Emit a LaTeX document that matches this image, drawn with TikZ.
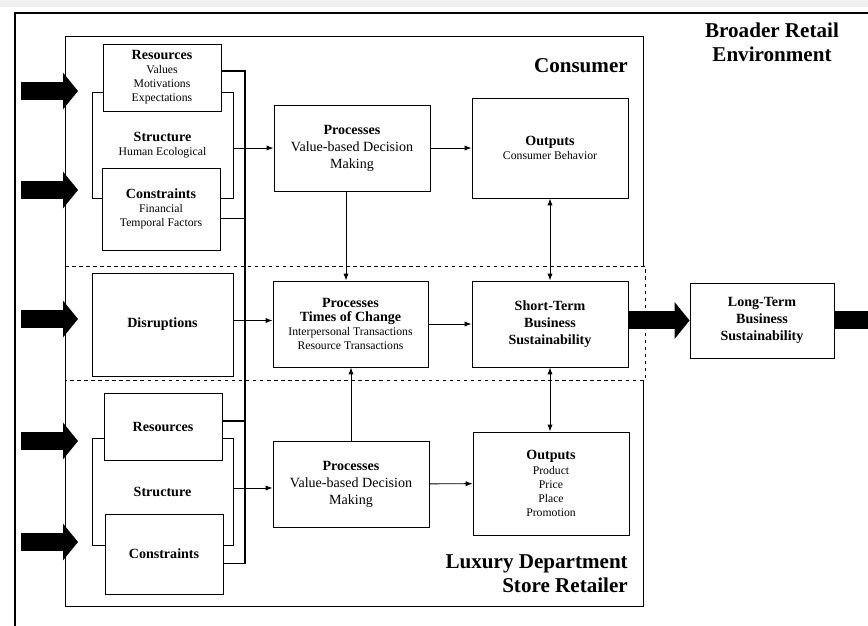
\documentclass[tikz,border=0pt]{standalone}
\usepackage{fontspec}
\setmainfont{Liberation Serif}
\usetikzlibrary{arrows.meta}

\tikzset{
	box/.style={draw, line width=0.7pt, fill=white, inner sep=2pt, align=center},
	wh/.style 2 args={minimum width=#1*0.03cm, minimum height=#2*0.03cm},
	sm/.style={font=\fontsize{10}{12}\selectfont},
	md/.style={font=\fontsize{12}{14.5}\selectfont},
	mdb/.style={font=\fontsize{12}{14.5}\selectfont\bfseries},
	arr/.style={-{Latex[length=6pt,width=4.5pt]}, line width=0.8pt},
	dbl/.style={{Latex[length=6pt,width=4.5pt]}-{Latex[length=6pt,width=4.5pt]}, line width=0.8pt},
	bus/.style={line width=1.5pt},
	fat/.style={line width=0.54cm, -{Triangle[width=1.08cm, length=0.45cm]}},
	title/.style={font=\fontsize{18}{20.5}\selectfont\bfseries, inner sep=0pt}
}
\newcommand{\hdr}[1]{{\fontsize{12}{13}\selectfont\bfseries #1}}

\begin{document}
\begin{tikzpicture}[x=0.03cm, y=-0.03cm]
		\useasboundingbox (0,0) rectangle (868,626);
		\clip (0,0) rectangle (868,626);
		\fill[white] (0,0) rectangle (868,626);
		\fill[gray!12] (0,0) rectangle (868,7);
		
		\draw[line width=1pt] (15,640) -- (15,13) -- (880,13);
		\draw[line width=0.8pt] (643,266) -- (643,36) -- (65,36) -- (65,606) -- (643,606) -- (643,380);
		\draw[dashed, line width=0.7pt] (65,266) -- (645,266) -- (645,380) -- (65,380);
		
		\node[box, wh={141}{106}, sm] (str1) at (162.5,145) {\hdr{Structure}\\Human Ecological};
		\node[box, wh={118}{67}, sm] (res1) at (162,77.5) {\hdr{Resources}\\Values\\Motivations\\Expectations};
		\node[box, wh={118}{82}, sm] (con1) at (161,209) {\hdr{Constraints}\\Financial\\Temporal Factors};
		\node[box, wh={141}{103}] (dis) at (162.5,324.5) {\hdr{Disruptions}};
		\node[box, wh={141}{107}] (str2) at (162.5,491.5) {\hdr{Structure}};
		\node[box, wh={118}{67}] (res2) at (163,426.5) {\hdr{Resources}};
		\node[box, wh={118}{80}] (con2) at (164,554) {\hdr{Constraints}};
		
		\node[box, wh={156}{86}, md] (proc1) at (352,148) {\textbf{Processes}\\Value-based Decision\\Making};
		\node[box, wh={156}{100}, sm] (out1) at (550,148) {\hdr{Outputs}\\Consumer Behavior};
		\node[box, wh={155}{86}, sm] (proc2) at (350.5,324) {\hdr{Processes}\\\hdr{Times of Change}\\Interpersonal Transactions\\Resource Transactions};
		\node[box, wh={156}{86}, mdb] (stb) at (550,324) {Short-Term\\Business\\Sustainability};
		\node[box, wh={156}{86}, md] (proc3) at (351,484) {\textbf{Processes}\\Value-based Decision\\Making};
		\node[box, wh={156}{103}, sm] (out3) at (551,483.5) {\hdr{Outputs}\\Product\\Price\\Place\\Promotion};
		\node[box, wh={144}{75}, mdb] (ltb) at (762,320.5) {Long-Term\\Business\\Sustainability};
		
		\node[title, anchor=east, align=right] (cons) at (628,66) {Consumer};
		\node[title, align=center] (bre) at (772,42) {Broader Retail\\Environment};
		\node[title, anchor=east, align=right] (ldsr) at (628,574) {Luxury Department\\Store Retailer};
		
		\coordinate (busx) at (245,0);
		\draw[bus] (res1.6) -- (res1.6 -| busx) -- (con2.-9 -| busx) -- (con2.-9);
		\draw[bus] (con1.-9) -- (con1.-9 -| busx);
		\draw[bus] (res2.5) -- (res2.5 -| busx);
		
		\draw[arr] (str1.east |- proc1.west) -- (proc1.west);
		\draw[arr] (dis.east) ++(0,-4) coordinate (d1) -- (d1 -| proc2.west);
		\draw[arr] (str2.east) ++(0,-3.5) coordinate (s2) -- (s2 -| proc3.west);
		\draw[arr] (proc1) -- (out1);
		\draw[arr] (proc2) -- (stb);
		\draw[arr] (proc3) -- (out3);
		\draw[arr] (proc1.south) ++(-6,0) coordinate (p1) -- (p1 |- proc2.north);
		\draw[arr] (proc3.north) -- (proc3.north |- proc2.south);
		\draw[dbl] (out1.south) -- (out1.south |- stb.north);
		\draw[dbl] (stb.south) -- (stb.south |- out3.north);
		
		\coordinate (la1) at (21,91);
		\coordinate (la2) at (21,190);
		\coordinate (la3) at (21,319);
		\coordinate (la4) at (21,441);
		\coordinate (la5) at (21,542);
		\coordinate (ltbout) at (885,320.5);
		\foreach \c in {la1,la2,la3,la4,la5}
			\draw[fat] (\c) -- ++(57,0);
		\draw[fat] (stb.east |- ltb.west) -- (ltb.west);
		\draw[fat] (ltb.east) -- (ltbout);
	\end{tikzpicture}
\end{document}
